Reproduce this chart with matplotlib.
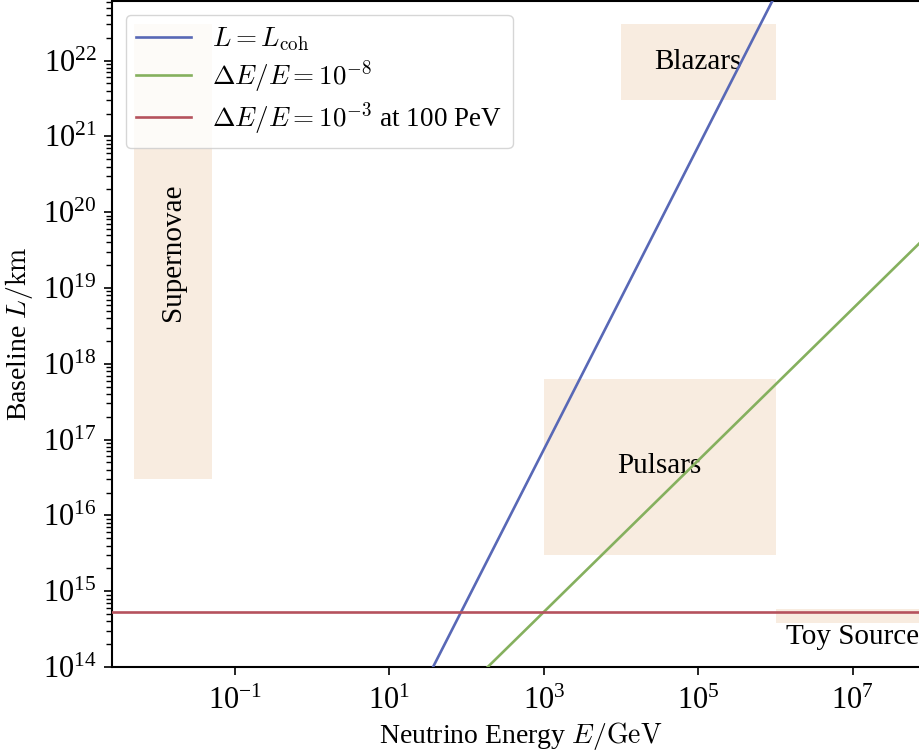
import numpy as np
import matplotlib
matplotlib.use("Agg")
import matplotlib.pyplot as plt
from matplotlib.ticker import NullLocator

plt.rcParams['font.family'] = ['Liberation Serif', 'DejaVu Serif']
plt.rcParams['mathtext.fontset'] = 'cm'

# line endpoints (E in GeV, L in km)
coh_E = [1e1, 1e6]
coh_L = [7.4e12, 7.4e22]
res8_E = [1e2, 1e8]
res8_L = [5.33e13, 5.33e19]
res3_L = 5.33e14

# source regions
src_names = ["Supernovae", "Blazars", "Pulsars", "Toy Source"]
src_E = [(5e-3, 5e-2), (1e4, 1e6), (1e3, 1e6), (1e6, 1e8)]
src_L = [(3e16, 3e22), (3e21, 3e22), (3e15, 6.3e17), (3.8e14, 5.8e14)]
lab_E = [1.58e-2, 1e5, 3.16e4, 1e7]
lab_L = [3e19, 9.5e21, 4.5e16, 2.5e14]
lab_rot = [90, 0, 0, 0]

blue = '#5868b6'
green = '#85b05e'
red = '#b5525d'
box = '#f8ece0'

fig = plt.figure(figsize=(9.2, 7.56), dpi=100)
ax = fig.add_axes([112 / 920, 89 / 756, 818 / 920, 666 / 756])
ax.set_xscale('log')
ax.set_yscale('log')

for name, (e0, e1), (l0, l1), ex, ly, rot in zip(src_names, src_E, src_L, lab_E, lab_L, lab_rot):
    ax.fill_between([e0, e1], l0, l1, color=box, lw=0, zorder=0)
    ax.text(ex, ly, name, rotation=rot, ha='center', va='center', fontsize=21, zorder=1)

ax.plot(coh_E, coh_L, color=blue, lw=1.9, label=r'$L = L_{\mathrm{coh}}$', zorder=3)
ax.plot(res8_E, res8_L, color=green, lw=1.9, label=r'$\Delta E/E = 10^{-8}$', zorder=3)
ax.axhline(res3_L, color=red, lw=1.9, label=r'$\Delta E/E = 10^{-3}$ at 100 PeV', zorder=3)

ax.set_xlim(2.56e-3, 1e8)
ax.set_ylim(1e14, 6.1e22)
ax.set_xticks([1e-1, 1e1, 1e3, 1e5, 1e7])
ax.xaxis.set_minor_locator(NullLocator())

ax.tick_params(which='major', length=6, width=1.2, labelsize=22, pad=5)
ax.tick_params(axis='x', which='major', pad=8)
ax.tick_params(which='minor', length=4, width=1.0)
for s in ax.spines.values():
    s.set_linewidth(1.5)

ax.set_xlabel(r'Neutrino Energy $E/\mathrm{GeV}$', fontsize=20, labelpad=3)
ax.set_ylabel(r'Baseline $L/\mathrm{km}$', fontsize=20, labelpad=6)

ax.legend(loc='upper left', fontsize=19.5, handlelength=2.0, framealpha=0.8,
          borderpad=0.4, labelspacing=0.2, bbox_to_anchor=(0, 1))

fig.savefig('out.png', dpi=100)
